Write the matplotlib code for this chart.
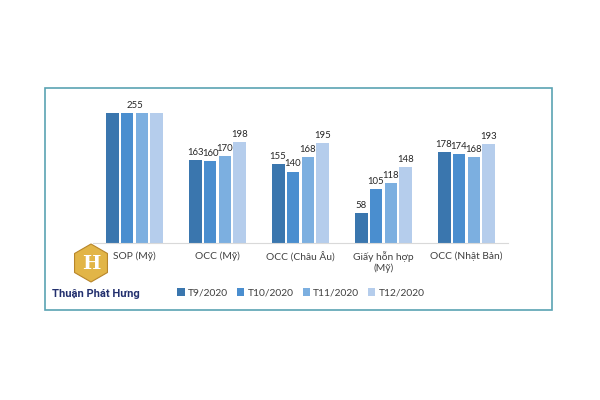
import matplotlib
matplotlib.use("Agg")
import matplotlib.pyplot as plt
import numpy as np
from matplotlib.patches import Rectangle, RegularPolygon

plt.rcParams['font.family'] = ['Lato', 'DejaVu Sans']

categories = ["SOP (Mỹ)", "OCC (Mỹ)", "OCC (Châu Âu)", "Giấy hỗn hợp\n(Mỹ)", "OCC (Nhật Bản)"]
series_names = ["T9/2020", "T10/2020", "T11/2020", "T12/2020"]
t9 = [255, 163, 155, 58, 178]
t10 = [255, 160, 140, 105, 174]
t11 = [255, 170, 168, 118, 168]
t12 = [255, 198, 195, 148, 193]
series = [t9, t10, t11, t12]
colors = ["#3a76ae", "#4a8ecf", "#7cafe0", "#b5cdec"]

fig = plt.figure(figsize=(6, 4), dpi=100)
fig.patch.set_facecolor("white")

# outer frame
fig.patches.append(Rectangle((45/600, 1-310/400), (552-45)/600, (310-88)/400,
                             transform=fig.transFigure, fill=False,
                             edgecolor="#5aa3b3", linewidth=1.2))

ax = fig.add_axes([93/600, 1-243/400, 415/600, 143/400])
x = np.arange(len(categories))
bw = 0.155
step = 0.18
fs = 7.4
vfs = 6.9
for i, (vals, c, name) in enumerate(zip(series, colors, series_names)):
    pos = x + (i - 1.5) * step
    ax.bar(pos, vals, width=bw, color=c, label=name, zorder=2)
    for j, (p, v) in enumerate(zip(pos, vals)):
        if len(set(s[j] for s in series)) == 1:
            if i == 0:
                ax.text(x[j], v + 6, str(v), ha="center", va="bottom",
                        fontsize=vfs, color="#262626")
        else:
            ax.text(p, v + 6, str(v), ha="center", va="bottom",
                    fontsize=vfs, color="#262626")

ax.set_xlim(-0.5, len(categories) - 0.5)
ax.set_ylim(0, 280)
ax.set_yticks([])
ax.set_xticks(x)
ax.set_xticklabels(categories, fontsize=fs, color="#404040")
ax.tick_params(axis="x", length=0, pad=6)
for s in ["top", "right", "left"]:
    ax.spines[s].set_visible(False)
ax.spines["bottom"].set_color("#d9d9d9")
ax.spines["bottom"].set_linewidth(0.8)

leg = fig.legend(loc="center", bbox_to_anchor=(301/600, 1-293/400), ncol=4,
                 frameon=False, fontsize=fs, handlelength=0.7, handleheight=0.7,
                 handletextpad=0.3, columnspacing=0.9)
for t in leg.get_texts():
    t.set_color("#404040")

# logo
hexa = RegularPolygon(((91)/100, (400-263)/100), numVertices=6, radius=0.19,
                      orientation=0, transform=fig.dpi_scale_trans,
                      facecolor="#e2b547", edgecolor="#b8862a", linewidth=0.8)
fig.patches.append(hexa)
fig.text(91/600, 1-264/400, "H", ha="center", va="center", fontsize=14,
         color="white", fontweight="bold", family="DejaVu Serif")
fig.text(52/600, 1-294/400, "Thuận Phát Hưng", ha="left", va="center",
         fontsize=8, color="#23306e", fontweight="bold",
         family=["Roboto", "DejaVu Sans"])

fig.savefig("out.png", dpi=100, facecolor="white")
